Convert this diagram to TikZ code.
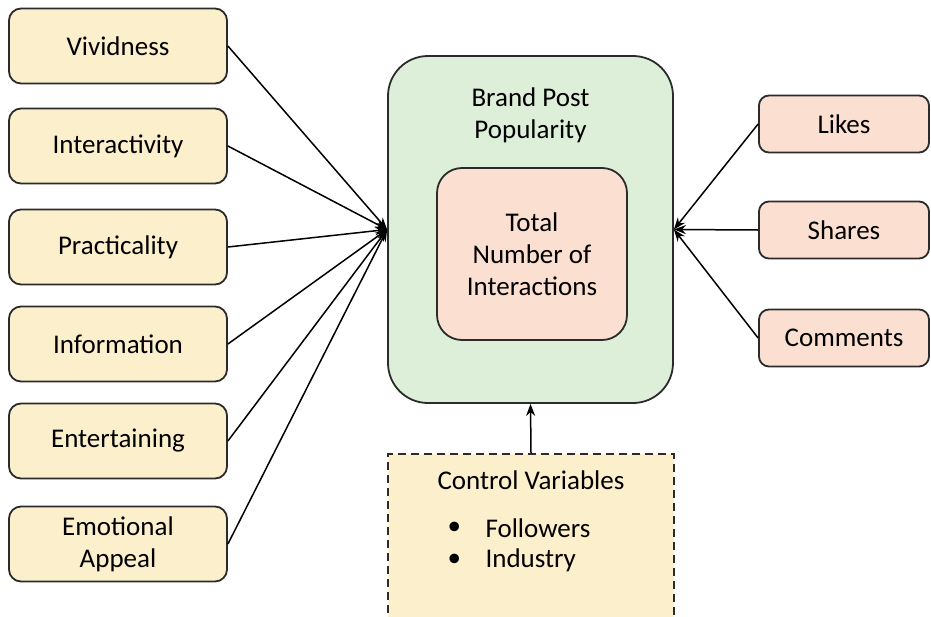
\documentclass[tikz,border=0pt]{standalone}
\usepackage{fontspec}
\setmainfont{Carlito}
\usepackage{tikz}
\usetikzlibrary{positioning,arrows.meta}
\definecolor{factorfill}{HTML}{FCEFCC}
\definecolor{popfill}{HTML}{DDEFD9}
\definecolor{countfill}{HTML}{FBE0D2}
\definecolor{edgegray}{HTML}{2B2B2B}
\tikzset{
        >={Stealth[length=12pt,width=9pt]}, % filled arrow heads
        factor/.style={draw=edgegray, line width=1.8pt, fill=factorfill, rounded corners=12pt,
                       minimum width=218pt, minimum height=75pt, align=center}, % left boxes
        metric/.style={draw=edgegray, line width=1.8pt, fill=countfill, rounded corners=10pt,
                       minimum width=170pt, minimum height=57pt}, % right boxes
        link/.style={line width=1.5pt}, % connectors
}

\begin{document}
\begin{tikzpicture}[x=1pt,y=-1pt,font=\fontsize{27}{32}\selectfont]
\useasboundingbox (0,0) rectangle (931,616);
\clip (0,0) rectangle (931,616);

% central construct
\node[draw=edgegray, line width=1.8pt, fill=popfill, rounded corners=40pt,
      minimum width=285pt, minimum height=347pt] (pop) at (530.5,229.5) {};
\node[align=center] (poptitle) at (530.5,115) {Brand Post\\Popularity};
\node[draw=edgegray, line width=1.8pt, fill=countfill, rounded corners=25pt,
      minimum width=190pt, minimum height=172pt, align=center] (tot) at (532,254)
      {Total\\Number of\\Interactions};

% content factors
\foreach \n/\y/\t in {viv/46/Vividness,inter/146/Interactivity,prac/247/Practicality,
                      info/344/Information,ent/441/Entertaining,emo/544/{Emotional\\Appeal}}
  \node[factor] (\n) at (118,\y) {\t};
\foreach \n in {viv,inter,prac,info,ent,emo}
  \draw[link,->] (\n.east) -- (pop.west);

% interactions
\foreach \n/\y/\t in {likes/124/Likes,shares/230/Shares,comm/338/Comments}
  \node[metric] (\n) at (844,\y) {\t};
\foreach \n in {likes,shares,comm}
  \draw[link,->] (\n.west) -- (pop.east);

% control variables
\node[draw=edgegray, line width=1.8pt, dash pattern=on 8pt off 5pt, fill=factorfill, anchor=north,
      minimum width=286pt, minimum height=200pt] (ctrl) at (531,453) {};
\node (ctrltitle) at (531,480) {Control Variables};
\node[anchor=west] (b1) at (444,528) {\textbullet};
\node[anchor=west] (fol) at (482,528) {Followers};
\node[anchor=west] (b2) at (444,560) {\textbullet};
\node[anchor=west] (ind) at (482,560) {Industry};
\draw[link,->] (ctrl.north) -- (pop.south);
\end{tikzpicture}
\end{document}
